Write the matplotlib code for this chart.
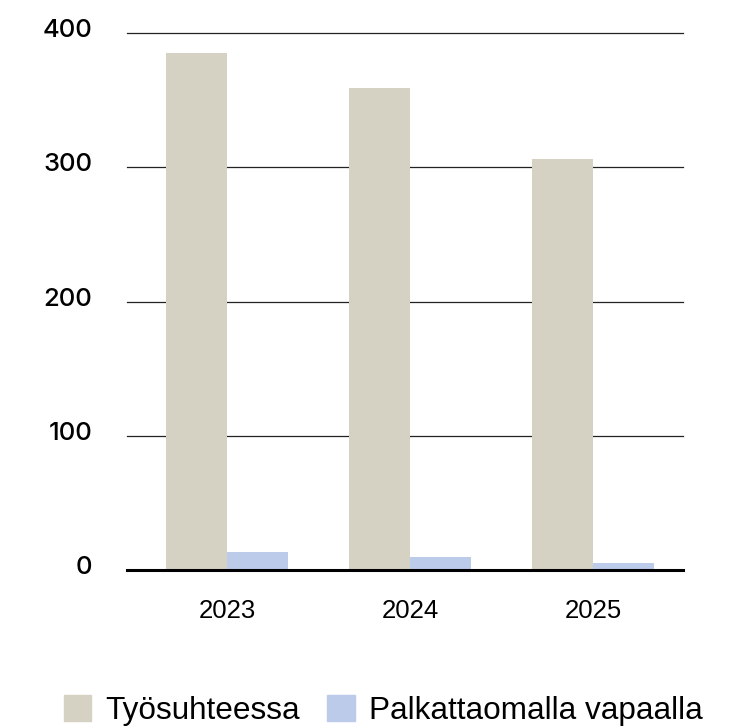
import numpy as np
import matplotlib.pyplot as plt
import matplotlib.transforms as mtransforms
from matplotlib.patches import Patch

# Data
years = ['2023', '2024', '2025']
tyosuhteessa = [385, 359, 306]
palkattomalla = [13.4, 9.7, 5.2]
y_ticks = [0, 100, 200, 300, 400]

grey = '#D5D2C4'
blue = '#BCCBEA'

fig = plt.figure(figsize=(7.44, 7.28), dpi=100)
ax = fig.add_axes([127 / 744, 1 - 570 / 728, 556 / 744, 537 / 728])

x = np.arange(len(years))
w = 0.333
ax.bar(x - w / 2, tyosuhteessa, w, color=grey, zorder=2)
ax.bar(x + w / 2, palkattomalla, w, color=blue, zorder=2)

ax.set_ylim(0, 400)
ax.set_xlim(-0.546, 2.492)

# gridlines + baseline
for yv in y_ticks[1:]:
    ax.axhline(yv, color='#222222', lw=0.9, zorder=1, clip_on=False)
ax.axhline(0, color='black', lw=2.2, zorder=3, clip_on=False)

for s in ax.spines.values():
    s.set_visible(False)

ax.set_yticks(y_ticks)
ax.set_yticklabels([str(v) for v in y_ticks], fontfamily='Inter', fontsize=18.5,
                   fontweight='medium')
ax.set_xticks(x)
ax.set_xticklabels(years, fontfamily='Liberation Sans', fontsize=18.5)
ax.tick_params(length=0)
ax.tick_params(axis='y', pad=25)
ax.tick_params(axis='x', pad=21)

# y labels sit a little above their gridlines
shift = mtransforms.ScaledTranslation(0, 3.5 / 72, fig.dpi_scale_trans)
for lab in ax.get_yticklabels():
    lab.set_transform(lab.get_transform() + shift)

handles = [Patch(color=grey, label='Työsuhteessa'),
           Patch(color=blue, label='Palkattaomalla vapaalla')]
fig.legend(handles=handles, loc='lower left', bbox_to_anchor=(64 / 744, 2 / 728),
           ncol=2, frameon=False, prop={'family': 'Liberation Sans', 'size': 22.7},
           handlelength=0.87, handleheight=0.87, handletextpad=0.44,
           columnspacing=0.87, borderpad=0, borderaxespad=0)

fig.savefig('out.png', dpi=100)
